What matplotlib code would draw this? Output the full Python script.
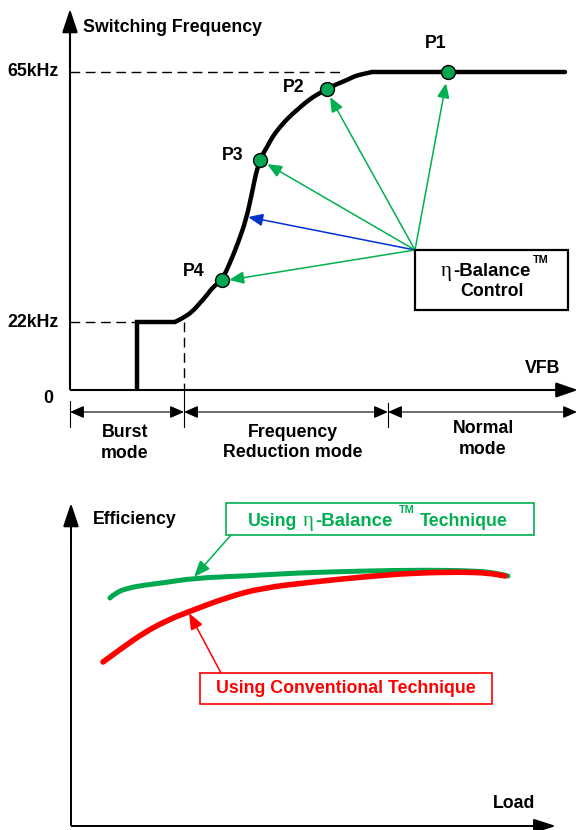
import matplotlib
matplotlib.use("Agg")
import matplotlib.pyplot as plt
from matplotlib.patches import FancyArrowPatch, Rectangle, ArrowStyle, PathPatch
from matplotlib.path import Path

# ---------------- data (diagram units: x to the right, y downward) ----------------
# Top chart: switching frequency vs VFB
burst_x = [137, 137, 175]
burst_y = [390, 322, 322]
freq_x = [175, 183, 192, 200, 207, 213, 222, 230, 238, 246, 252, 256, 260,
          264, 267, 273, 280, 288, 297, 305, 313, 320, 327, 337, 347, 355, 363, 372]
freq_y = [322, 318, 312, 303, 295, 287, 280, 263, 243, 220, 193, 173, 160,
          152, 147, 136, 127, 118, 110, 103, 97, 93, 89, 84, 80, 76, 74, 72]
normal_x = [372, 448, 565]
normal_y = [72, 72, 72]
point_names = ["P1", "P2", "P3", "P4"]
point_x = [448, 327, 260, 222]
point_y = [72, 89, 160, 280]
point_label_x = [436, 294, 233, 194]
point_label_y = [43, 88, 155, 271]
# arrows from the eta-Balance control box to the operating points
ctrl_origin = (415, 250)
ctrl_tip_x = [446, 330, 267, 248, 229]
ctrl_tip_y = [83, 97, 164, 217, 280]
ctrl_colors = ["#00B050", "#00B050", "#00B050", "#0033CC", "#00B050"]
freq_ticks = ["0", "22kHz", "65kHz"]
freq_tick_y = [398, 322, 72]
mode_edges = [70, 184, 388, 577]
mode_line1 = ["Burst", "Frequency", "Normal"]
mode_line2 = ["mode", "Reduction mode", "mode"]
mode_label_x = [125, 293, 483]
mode_line1_y = [432, 432, 428]
mode_line2_y = [453, 452, 449]

# Bottom chart: efficiency vs load
eff_new_x = [110, 115, 128, 145, 162, 195, 245, 295, 362, 428, 478, 495, 508]
eff_new_y = [598, 593, 588, 585, 583, 578, 576, 573, 571, 570, 571, 573, 576]
eff_conv_x = [103, 122, 145, 168, 188, 228, 262, 312, 362, 412, 462, 488, 505]
eff_conv_y = [662, 648, 632, 620, 612, 597, 588, 582, 577, 573, 572, 573, 576]

GREEN = "#00B050"
CURVE_GREEN = "#00A84F"
RED = "#FF0000"
BLUE = "#0033CC"
FONT = "Liberation Sans"
FS = 12.8

fig = plt.figure(figsize=(5.78, 8.30), dpi=100)
ax = fig.add_axes([0, 0, 1, 1])
ax.set_xlim(0, 578)
ax.set_ylim(830, 0)
ax.axis("off")


def arrow(p0, p1, color="black", lw=1.0, hl=8.6, hw=3.8, style="-|>", z=3):
    st = ArrowStyle(style, head_length=hl, head_width=hw)
    a = FancyArrowPatch(p0, p1, arrowstyle=st, mutation_scale=1, lw=lw,
                        color=color, shrinkA=0, shrinkB=0, zorder=z,
                        joinstyle="miter", capstyle="butt")
    ax.add_patch(a)


def txt(x, y, s, color="black", ha="center", va="center", size=FS, **kw):
    return ax.text(x, y, s, color=color, ha=ha, va=va, fontsize=size,
                   fontweight="bold", family=[FONT, "DejaVu Sans"], **kw)


def smooth_curve(xs, ys, color, lw, z):
    pts = list(zip(xs, ys))
    verts = [pts[0]]
    codes = [Path.MOVETO]
    for i in range(1, len(pts) - 1):
        mid = ((pts[i][0] + pts[i + 1][0]) / 2, (pts[i][1] + pts[i + 1][1]) / 2)
        verts += [pts[i], mid]
        codes += [Path.CURVE3, Path.CURVE3]
    verts.append(pts[-1])
    codes.append(Path.LINETO)
    ax.add_patch(PathPatch(Path(verts, codes), fill=False, ec=color, lw=lw,
                           capstyle="round", joinstyle="round", zorder=z))


def eta_label(x_bal, y_base, color, tm_gap):
    ax.text(x_bal - 1, y_base, "η", color=color, ha="right", va="baseline",
            fontsize=15, family=["Liberation Serif", "DejaVu Serif"], zorder=7)
    bal = ax.text(x_bal, y_base, "-Balance", color=color, ha="left", va="baseline",
                  fontsize=13.4, fontweight="bold", family=[FONT], zorder=7)
    ax.annotate("TM", xy=(1, 1), xycoords=bal, xytext=(tm_gap, 5.5),
                textcoords="offset points", ha="left", va="top", color=color,
                fontsize=7.8, fontweight="bold", family=[FONT], zorder=7)


# ---------------- top chart ----------------
# axes
ax.plot([70, 70], [390, 28], color="black", lw=1.5, solid_capstyle="butt")
arrow((70, 60), (70, 9), lw=1.2, hl=15, hw=5)
ax.plot([70, 560], [390, 390], color="black", lw=1.5, solid_capstyle="butt")
arrow((520, 390), (578, 390), lw=1.2, hl=14, hw=4.8)

# dashed references
ax.plot([70, 345], [72, 72], color="black", lw=1.0, ls=(0, (7, 4)))
ax.plot([70, 137], [322, 322], color="black", lw=1.0, ls=(0, (7, 4)))
ax.plot([184, 184], [322, 390], color="black", lw=1.0, ls=(0, (7, 4)))

# frequency curve
ax.plot(burst_x, burst_y, color="black", lw=3.2, solid_joinstyle="miter",
        solid_capstyle="butt", zorder=4)
smooth_curve(freq_x, freq_y, "black", 3.2, 4)
ax.plot(normal_x, normal_y, color="black", lw=3.2, solid_capstyle="round", zorder=4)

# control arrows
for tx, ty, c in zip(ctrl_tip_x, ctrl_tip_y, ctrl_colors):
    arrow(ctrl_origin, (tx, ty), color=c, lw=1.1, hl=9, hw=3.8, z=3)

# operating points
ax.plot(point_x, point_y, "o", ms=10, mfc="#00A651", mec="black", mew=1.0, zorder=6)
for n, lx, ly in zip(point_names, point_label_x, point_label_y):
    txt(lx, ly, n)

# control box
ax.add_patch(Rectangle((415, 250), 153, 60, fill=True, fc="white", ec="black", lw=1.6, zorder=5))
eta_label(453, 276, "black", 2.0)
txt(492, 291, "Control", zorder=7)

# axis texts
txt(83, 28, "Switching Frequency", ha="left")
for s, y in zip(freq_ticks, freq_tick_y):
    if s == "0":
        txt(48, y, s)
    else:
        txt(59, y, s, ha="right")
txt(543, 368, "VFB")

# mode dimension lines
ax.plot([70, 70], [401, 427], color="black", lw=0.8)
ax.plot([184, 184], [390, 427], color="black", lw=0.8)
ax.plot([388, 388], [403, 427], color="black", lw=0.8)
for a, b in zip(mode_edges[:-1], mode_edges[1:]):
    arrow((a, 412), (b, 412), lw=0.8, hl=8.6, hw=3.8, style="<|-|>")
for s1, s2, x, y1, y2 in zip(mode_line1, mode_line2, mode_label_x, mode_line1_y, mode_line2_y):
    txt(x, y1, s1)
    txt(x, y2, s2)

# ---------------- bottom chart ----------------
ax.plot([71, 71], [826, 520], color="black", lw=1.4, solid_capstyle="butt")
arrow((71, 540), (71, 503), lw=1.2, hl=15, hw=5)
ax.plot([71, 540], [826, 826], color="black", lw=1.4, solid_capstyle="butt")
arrow((500, 826), (556, 826), lw=1.2, hl=14, hw=4.5)

smooth_curve(eff_new_x, eff_new_y, CURVE_GREEN, 3.6, 4)
smooth_curve(eff_conv_x, eff_conv_y, RED, 4.0, 5)

ax.add_patch(Rectangle((226, 503), 308, 32, fill=False, ec=GREEN, lw=1.2))
txt(248, 526, "Using", color=GREEN, ha="left", va="baseline")
eta_label(315, 526, GREEN, 4.5)
txt(420, 526, "Technique", color=GREEN, ha="left", va="baseline")
arrow((231, 535), (194, 577), color=GREEN, lw=1.1, hl=10, hw=4)

ax.add_patch(Rectangle((200, 673), 292, 31, fill=False, ec=RED, lw=1.2))
txt(346, 688, "Using Conventional Technique", color=RED)
arrow((221, 673), (189, 613), color=RED, lw=1.1, hl=10, hw=4)

txt(93, 519, "Efficiency", ha="left")
txt(514, 803, "Load")

fig.savefig("out.png", dpi=100)
